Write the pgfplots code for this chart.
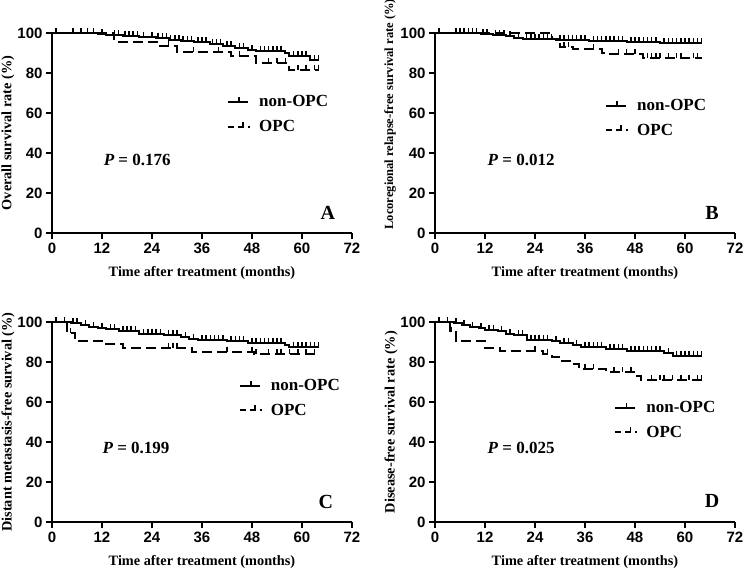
\documentclass[border=0pt]{standalone}
\usepackage{fontspec}
\setmainfont{Liberation Serif}
\setsansfont{Liberation Sans}
\usepackage{pgfplots}
\pgfplotsset{compat=1.18}
\newcommand{\labfont}{\fontsize{14.3}{14.3}\selectfont\bfseries}
\pgfplotsset{
  km/.style={
    scale only axis, width=300pt, height=200pt,
    xmin=0, xmax=72, ymin=0, ymax=100,
    xtick={0,12,...,72}, ytick={0,20,...,100},
    axis x line*=bottom, axis y line*=left,
    axis line style={-, line width=2pt},
    tick align=outside, major tick length=6pt,
    every tick/.style={line width=2pt, black},
    tick label style={font=\fontsize{15}{15}\selectfont\sffamily\bfseries},
    /pgf/number format/assume math mode=true,
    every axis x label/.style={at={(axis description cs:0.5,-0.2)}, anchor=center, font=\labfont},
    every axis y label/.style={at={(axis description cs:-0.1467,0.5)}, anchor=center, rotate=90, font=\labfont},
    xlabel={Time after treatment (months)},
    clip=false,
    legend style={draw=none, fill=none, font=\fontsize{17}{17}\selectfont\bfseries, row sep=8pt, inner sep=0pt, anchor=west},
    legend cell align=left,
  },
  nonopc/.style={black, line width=2pt, const plot, no marks,
    legend image code/.code={\draw[black,solid,line width=2pt] (0pt,0pt)--(20pt,0pt); \draw[black,solid,line width=1.5pt] (11pt,0pt)--(11pt,5pt); \path (28pt,0pt);}},
  opc/.style={black, line width=2pt, const plot, no marks, dash pattern=on 10pt off 5pt,
    legend image code/.code={\draw[black,line width=2pt,dash pattern=on 6pt off 4pt] (0pt,0pt)--(22pt,0pt); \draw[black,solid,line width=1.5pt] (15pt,0pt)--(15pt,5pt); \path (28pt,0pt);}},
  cens/.style={black, only marks, mark=|, mark size=2.5pt, mark options={solid, line width=1.5pt, yshift=2.5pt}, forget plot},
}
\newcommand{\pval}[1]{{\fontsize{17}{17}\selectfont\bfseries{\itshape P} = #1}}
\begin{document}
\begin{tikzpicture}
\useasboundingbox (0pt,0pt) rectangle (744pt,568pt);
%% ---------------- A ----------------
\begin{axis}[km, at={(52pt,335pt)}, anchor=south west,
  ylabel={Overall survival rate (\%)},
  legend style={at={(axis cs:42,59.25)}}]
\addplot[nonopc] coordinates {(0,100)(11,99.5)(13,99)(17,98.5)(21,98)(25,97.3)(28,96.5)(31,96)(34,95.3)(38,94.5)(41,93.5)(44,92.5)(47,91.5)(49,91)(56,90)(57,88.5)(62,86.5)(64,86.5)};
\addlegendentry{non-OPC}
\addplot[opc] coordinates {(0,100)(15,95.5)(26,93.3)(30,90.3)(43,88.3)(49,85)(57,81.7)(64,81.7)};
\addlegendentry{OPC}
\addplot[cens] coordinates {(1,100)(5,100)(7,100)(8.5,100)(10,100)(12,99.5)(15,99)(16,99)(17.5,98.5)(18.5,98.5)(19.5,98.5)(20.5,98.5)(22,98)(24,98)(25.5,97.3)(26.5,97.3)(27.5,97.3)(28.5,96.5)(29.5,96.5)(30.5,96.5)(31.5,96)(32.5,96)(33.5,96)(35,95.3)(36,95.3)(37,95.3)(38.5,94.5)(39.5,94.5)(40.5,94.5)(42,93.5)(43,93.5)(45,92.5)(46,92.5)(48,91.5)(50,91)(51,91)(52,91)(53,91)(54,91)(55,91)(58,88.5)(59,88.5)(60,88.5)(61,88.5)(63,86.5)(64,86.5)};
\addplot[cens] coordinates {(28,93.3)(34,90.3)(40,90.3)(45,88.3)(52,85)(54,85)(56,85)(59,81.7)(61,81.7)(63,81.7)(64,81.7)};
\node[anchor=west] at (axis cs:11.6,36.5) {\pval{0.176}};
\node[font=\fontsize{20}{20}\selectfont\bfseries] at (axis cs:66.2,10) {A};
\end{axis}
%% ---------------- B ----------------
\begin{axis}[km, at={(435pt,335pt)}, anchor=south west,
  ylabel={Locoregional relapse-free survival rate (\%)},
  every axis y label/.style={at={(axis description cs:-0.15,0.0)}, anchor=west, rotate=90, font=\fontsize{12.5}{12.5}\selectfont\bfseries},
  legend style={at={(axis cs:40.8,57.5)}}]
\addplot[nonopc] coordinates {(0,100)(11,99.3)(14,98.8)(17,98.3)(19,97.7)(21,97.2)(29,96.5)(37,96)(46,95.5)(54,95)(64,95)};
\addlegendentry{non-OPC}
\addplot[opc] coordinates {(0,100)(28,97)(30,93)(33,92)(40,90)(42,89.3)(50,87.5)(64,87.5)};
\addlegendentry{OPC}
\addplot[cens] coordinates {(1,100)(5,100)(6,100)(7,100)(8,100)(9,100)(10,100)(11.5,99.3)(12.5,99.3)(14.5,98.8)(15.5,98.8)(16.5,98.8)(18,98.3)(20,97.7)(22,97.2)(23,97.2)(24,97.2)(25,97.2)(26,97.2)(27,97.2)(28,97.2)(30,96.5)(31,96.5)(32,96.5)(33,96.5)(34,96.5)(35,96.5)(36,96.5)(38,96)(39,96)(40,96)(41,96)(42,96)(43,96)(44,96)(45,96)(47,95.5)(48,95.5)(49,95.5)(50,95.5)(51,95.5)(52,95.5)(53,95.5)(55,95)(56,95)(57,95)(58,95)(59,95)(60,95)(61,95)(62,95)(63,95)(64,95)};
\addplot[cens] coordinates {(31,93)(32,93)(38,92)(44,89.3)(46,89.3)(48,89.3)(51,87.5)(52,87.5)(53,87.5)(54,87.5)(56,87.5)(58,87.5)(59,87.5)(62,87.5)(63,87.5)};
\node[anchor=west] at (axis cs:11.8,36.5) {\pval{0.012}};
\node[font=\fontsize{20}{20}\selectfont\bfseries] at (axis cs:66.5,10) {B};
\end{axis}
%% ---------------- C ----------------
\begin{axis}[km, at={(52pt,46pt)}, anchor=south west,
  ylabel={Distant metastasis-free survival (\%)},
  legend style={at={(axis cs:44.8,62)}}]
\addplot[nonopc] coordinates {(0,100)(4.5,99.3)(7,98.5)(9,97.7)(11,97)(13,96.3)(16,95.5)(21,94)(27,93.3)(31,92.5)(33,91.5)(35,91)(42,90.3)(47,89.5)(56,88.3)(57,87.5)(64,87.5)};
\addlegendentry{non-OPC}
\addplot[opc] coordinates {(0,100)(3.7,94.5)(5.5,90.5)(12,89.2)(17,87.2)(33.5,85.2)(48.5,83.8)(64,83.8)};
\addlegendentry{OPC}
\addplot[cens] coordinates {(1,100)(3,100)(5,99.3)(6,99.3)(8,98.5)(10,97.7)(12,97)(14,96.3)(15,96.3)(17,95.5)(18,95.5)(19,95.5)(20,95.5)(22,94)(23,94)(24,94)(25,94)(26,94)(28,93.3)(29,93.3)(30,93.3)(32,92.5)(34,91.5)(36,91)(37,91)(38,91)(39,91)(40,91)(41,91)(43,90.3)(44,90.3)(45,90.3)(46,90.3)(48,89.5)(49,89.5)(50,89.5)(51,89.5)(52,89.5)(53,89.5)(54,89.5)(55,89.5)(58,87.5)(59,87.5)(60,87.5)(61,87.5)(62,87.5)(63,87.5)(64,87.5)};
\addplot[cens] coordinates {(4.5,94.5)(28,87.2)(29,87.2)(30,87.2)(42,85.2)(48,85.2)(49,83.8)(52,83.8)(54,83.8)(55,83.8)(57,83.8)(59,83.8)(61,83.8)(63,83.8)};
\node[anchor=west] at (axis cs:11.3,37) {\pval{0.199}};
\node[font=\fontsize{20}{20}\selectfont\bfseries] at (axis cs:65.7,10) {C};
\end{axis}
%% ---------------- D ----------------
\begin{axis}[km, at={(435pt,46pt)}, anchor=south west,
  ylabel={Disease-free survival rate (\%)},
  legend style={at={(axis cs:43,51)}}]
\addplot[nonopc] coordinates {(0,100)(4.5,99.3)(6.5,98.5)(8.5,97.7)(10.5,96.8)(12,96)(15,95.3)(17,94)(19,93.3)(22,91.2)(28,90.5)(30,89.5)(33,88.5)(35,87.7)(41,86.7)(46,85.5)(55,84.5)(57,83.2)(64,83.2)};
\addlegendentry{non-OPC}
\addplot[opc] coordinates {(0,100)(3.7,95)(5,90.5)(12,87.2)(15.5,85.5)(26,84.2)(28,82.3)(30,80.5)(33,78.8)(34.5,76.7)(41,74.8)(48,73)(49.5,71)(64,71)};
\addlegendentry{OPC}
\addplot[cens] coordinates {(1,100)(3,100)(5,99.3)(7,98.5)(9,97.7)(11,96.8)(13,96)(14,96)(16,95.3)(18,94)(20,93.3)(21,93.3)(23,91.2)(24,91.2)(25,91.2)(26,91.2)(27,91.2)(29,90.5)(31,89.5)(32,89.5)(34,88.5)(36,87.7)(37,87.7)(38,87.7)(39,87.7)(40,87.7)(42,86.7)(43,86.7)(44,86.7)(45,86.7)(47,85.5)(48,85.5)(49,85.5)(50,85.5)(51,85.5)(52,85.5)(53,85.5)(54,85.5)(56,84.5)(58,83.2)(59,83.2)(60,83.2)(61,83.2)(62,83.2)(63,83.2)(64,83.2)};
\addplot[cens] coordinates {(4,95)(24,85.5)(27,84.2)(36,76.7)(38,76.7)(43,74.8)(45,74.8)(47,74.8)(52,71)(54,71)(55,71)(57,71)(59,71)(61,71)(63,71)(64,71)};
\node[anchor=west] at (axis cs:11.8,37) {\pval{0.025}};
\node[font=\fontsize{20}{20}\selectfont\bfseries] at (axis cs:66.5,10.5) {D};
\end{axis}
\end{tikzpicture}
\end{document}
